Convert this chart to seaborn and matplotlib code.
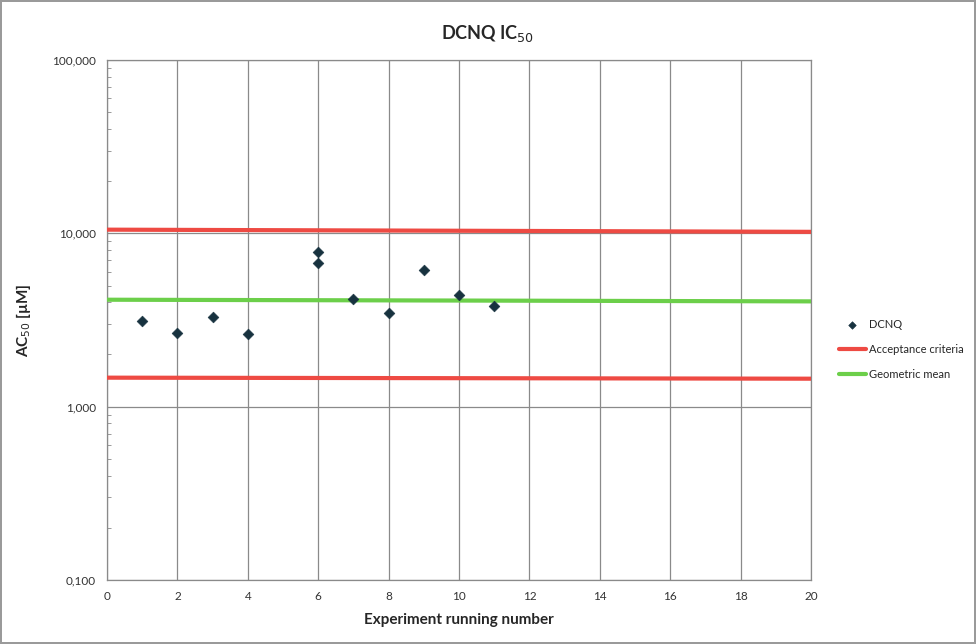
import matplotlib
matplotlib.use("Agg")
import matplotlib.pyplot as plt
import seaborn as sns
import pandas as pd
from matplotlib.ticker import FixedLocator, FixedFormatter, LogLocator, NullFormatter

# Data
run_number = [1, 2, 3, 4, 6, 6, 7, 8, 9, 10, 11]
dcnq_ac50 = [3.12, 2.65, 3.28, 2.62, 7.84, 6.74, 4.20, 3.46, 6.14, 4.41, 3.83]
acceptance_upper = [10.5, 10.2]
acceptance_lower = [1.47, 1.45]
geometric_mean = [4.14, 4.05]
line_x = [0, 20]
y_ticks = [0.1, 1, 10, 100]
y_tick_labels = ["0,100", "1,000", "10,000", "100,000"]
x_ticks = list(range(0, 21, 2))

sns.set_style("white")
plt.rcParams['font.family'] = ['Lato', 'DejaVu Sans']

fig = plt.figure(figsize=(9.76, 6.44), dpi=100)
fig.patch.set_edgecolor("#9a9a9a")
fig.patch.set_linewidth(1.5)
ax = fig.add_axes([107/976, 1-580/644, (811-107)/976, (580-60)/644])

pts = pd.DataFrame({"x": run_number, "y": dcnq_ac50})
up = pd.DataFrame({"x": line_x, "y": acceptance_upper})
lo = pd.DataFrame({"x": line_x, "y": acceptance_lower})
gm = pd.DataFrame({"x": line_x, "y": geometric_mean})

red = "#ee4a43"
green = "#6ccf4a"
sns.lineplot(data=up, x="x", y="y", ax=ax, color=red, lw=3, label="Acceptance criteria", zorder=3)
sns.lineplot(data=lo, x="x", y="y", ax=ax, color=red, lw=3, zorder=3)
sns.lineplot(data=gm, x="x", y="y", ax=ax, color=green, lw=3, label="Geometric mean", zorder=3)
sns.scatterplot(data=pts, x="x", y="y", ax=ax, marker="D", s=30, color="#17323f",
                edgecolor="#17323f", label="DCNQ", zorder=4)

ax.set_yscale("log")
ax.set_ylim(0.1, 100)
ax.set_xlim(0, 20)
ax.yaxis.set_major_locator(FixedLocator(y_ticks))
ax.yaxis.set_major_formatter(FixedFormatter(y_tick_labels))
ax.yaxis.set_minor_locator(LogLocator(base=10, subs=range(2, 10)))
ax.yaxis.set_minor_formatter(NullFormatter())
ax.set_xticks(x_ticks)
ax.set_xticklabels([str(v) for v in x_ticks])

ax.grid(True, which="major", color="#8a8a8a", lw=0.9)
ax.set_axisbelow(True)
for s in ax.spines.values():
    s.set_color("#8a8a8a")
    s.set_linewidth(0.9)
ax.tick_params(axis="both", which="major", length=0, labelsize=8.5, colors="#333333", pad=8)
ax.tick_params(axis="y", which="minor", direction="in", length=3, color="#8a8a8a", left=True)

ax.set_xlabel("Experiment running number", fontsize=11, fontweight="bold", labelpad=8)
ax.set_ylabel("AC$_{50}$ [µM]", fontsize=11, fontweight="bold", labelpad=14)
fig.text(0.5 + 0.0, 1-33/644, "DCNQ IC$_{50}$", ha="center", va="center",
         fontsize=13, fontweight="bold")

handles, labels = ax.get_legend_handles_labels()
order = [labels.index("DCNQ"), labels.index("Acceptance criteria"), labels.index("Geometric mean")]
leg = ax.legend([handles[i] for i in order], [labels[i] for i in order],
                loc="upper left", bbox_to_anchor=(829/976, 1-309/644),
                bbox_transform=fig.transFigure, frameon=False, fontsize=8,
                handlelength=2.4, handletextpad=0.3, labelspacing=1.25,
                markerscale=0.7)

fig.savefig("out.png", dpi=100)
